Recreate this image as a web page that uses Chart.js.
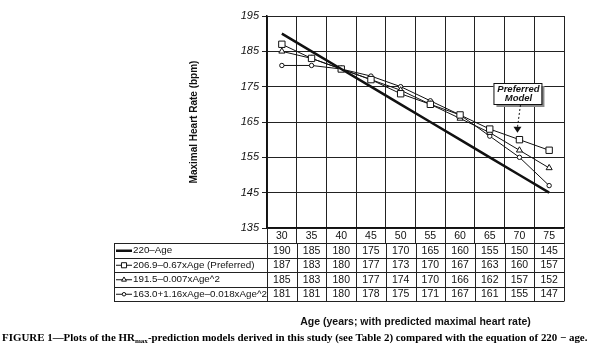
<!DOCTYPE html>
<html>
<head>
<meta charset="utf-8">
<script src="https://cdn.jsdelivr.net/npm/chart.js"></script>
<style>
    html, body { margin: 0; padding: 0; background: #fff; }
    #wrap { width: 600px; height: 351px; position: relative; }
</style>
</head>
<body>
<div id="wrap"><canvas id="hrChart" width="600" height="351"></canvas></div>
<script>
// data (tabel di bawah grafik)
const ages = ['30', '35', '40', '45', '50', '55', '60', '65', '70', '75'];
const hr220 = [190, 185, 180, 175, 170, 165, 160, 155, 150, 145];
const hrPreferred = [187, 183, 180, 177, 173, 170, 167, 163, 160, 157];
const hrQuad = [185, 183, 180, 177, 174, 170, 166, 162, 157, 152];
const hrPoly = [181, 181, 180, 178, 175, 171, 167, 161, 155, 147];
const seriesNames = ['220\u2013Age', '206.9\u20130.67xAge (Preferred)', '191.5\u20130.007xAge^2', '163.0+1.16xAge\u20130.018xAge^2'];
const yTicks = [135, 145, 155, 165, 175, 185, 195];

const INK = '#111';
const SANS = 'Arial, "Liberation Sans", sans-serif';

// gambar tabel, anotasi dan keterangan
const tablePlugin = {
    id: 'tablePlugin',
    afterDraw(chart) {
        const ctx = chart.ctx;
        const xs = chart.scales.x;
        const ys = chart.scales.y;
        const area = chart.chartArea;
        const colW = (area.right - area.left) / ages.length;
        const headerH = 15;
        const rowH = 14.5;
        const tableLeft = 114;
        const top = area.bottom + headerH;
        const rows = chart.data.datasets;

        ctx.save();
        ctx.fillStyle = INK;
        ctx.textAlign = 'center';
        ctx.textBaseline = 'middle';
        ctx.font = '10.5px ' + SANS;

        // header umur
        ages.forEach((a, i) => {
            ctx.fillText(a, xs.getPixelForTick(i), area.bottom + headerH / 2 + 0.5);
        });

        // garis tabel
        ctx.strokeStyle = '#222';
        ctx.lineWidth = 1;
        for (let r = 0; r <= rows.length; r++) {
            const y = Math.round(top + r * rowH) + 0.5;
            ctx.beginPath();
            ctx.moveTo(tableLeft, y);
            ctx.lineTo(area.right, y);
            ctx.stroke();
        }
        const bottom = top + rows.length * rowH;
        const vlines = [tableLeft];
        for (let i = 0; i <= ages.length; i++) vlines.push(area.left + i * colW);
        vlines.forEach(x => {
            ctx.beginPath();
            ctx.moveTo(Math.round(x) + 0.5, top);
            ctx.lineTo(Math.round(x) + 0.5, Math.round(bottom) + 0.5);
            ctx.stroke();
        });

        // isi baris
        rows.forEach((ds, r) => {
            const cy = top + r * rowH + rowH / 2 + 0.5;
            ctx.save();
            ctx.strokeStyle = INK;
            ctx.lineWidth = ds.borderWidth;
            ctx.beginPath();
            ctx.moveTo(tableLeft + 2, cy);
            ctx.lineTo(tableLeft + 18, cy);
            ctx.stroke();
            if (ds.pointRadius > 0) {
                ctx.fillStyle = '#fff';
                ctx.lineWidth = 1;
                Chart.helpers.drawPoint(ctx, {
                    pointStyle: ds.pointStyle,
                    radius: ds.pointRadius * 0.8,
                    borderWidth: 1,
                    rotation: 0
                }, tableLeft + 10, cy);
            }
            ctx.restore();

            ctx.textAlign = 'left';
            ctx.font = '9.8px ' + SANS;
            ctx.fillText(seriesNames[r], tableLeft + 19, cy);
            ctx.font = '10.5px ' + SANS;
            ctx.textAlign = 'center';
            ds.data.forEach((v, i) => {
                ctx.fillText(String(v), xs.getPixelForTick(i), cy);
            });
        });

        // judul sumbu x
        ctx.font = 'bold 10.5px ' + SANS;
        ctx.fillText('Age (years; with predicted maximal heart rate)', (area.left + area.right) / 2, 322);

        // kotak "Preferred Model"
        const px = xs.getPixelForTick(8) - 2;
        const tipY = ys.getPixelForValue(hrPreferred[8]) - 7;
        const bx = px - 24, by = 83, bw = 48, bh = 21;
        ctx.fillStyle = '#8a8a8a';
        ctx.fillRect(bx + 3, by + 3, bw, bh);
        ctx.fillStyle = '#fff';
        ctx.fillRect(bx, by, bw, bh);
        ctx.strokeStyle = INK;
        ctx.lineWidth = 1;
        ctx.strokeRect(bx + 0.5, by + 0.5, bw, bh);
        ctx.fillStyle = INK;
        ctx.font = 'italic bold 9.5px ' + SANS;
        ctx.fillText('Preferred', bx + bw / 2 + 1, by + 6.5);
        ctx.fillText('Model', bx + bw / 2 + 1, by + 15.5);

        // panah putus-putus
        ctx.setLineDash([2, 2]);
        ctx.beginPath();
        ctx.moveTo(px + 3, by + bh + 1);
        ctx.lineTo(px, tipY - 5);
        ctx.stroke();
        ctx.setLineDash([]);
        ctx.beginPath();
        ctx.moveTo(px - 4, tipY - 6);
        ctx.lineTo(px + 4, tipY - 6);
        ctx.lineTo(px, tipY);
        ctx.closePath();
        ctx.fill();

        // keterangan gambar
        drawCaption(ctx);
        ctx.restore();
    }
};

function drawCaption(ctx) {
    const serif = '"Liberation Serif", "Times New Roman", serif';
    const parts = [
        { t: 'FIGURE 1\u2014Plots of the HR', sub: false },
        { t: 'max', sub: true },
        { t: '-prediction models derived in this study (see Table 2) compared with the equation of 220 \u2212 age.', sub: false }
    ];
    let size = 11.5;
    const measure = s => {
        let w = 0;
        parts.forEach(p => {
            ctx.font = 'bold ' + (p.sub ? s * 0.65 : s) + 'px ' + serif;
            w += ctx.measureText(p.t).width;
        });
        return w;
    };
    const target = 586;
    size = size * target / measure(size);
    let x = 2;
    ctx.textAlign = 'left';
    ctx.textBaseline = 'alphabetic';
    ctx.fillStyle = '#000';
    parts.forEach(p => {
        ctx.font = 'bold ' + (p.sub ? size * 0.65 : size) + 'px ' + serif;
        ctx.fillText(p.t, x, p.sub ? 343 : 341);
        x += ctx.measureText(p.t).width;
    });
}

const ctx = document.getElementById('hrChart');

new Chart(ctx, {
    type: 'line',
    data: {
        labels: ages,
        datasets: [
            {
                label: seriesNames[0],
                data: hr220,
                borderColor: INK,
                borderWidth: 2.5,
                pointRadius: 0,
                pointStyle: 'line',
                tension: 0
            },
            {
                label: seriesNames[1],
                data: hrPreferred,
                borderColor: INK,
                borderWidth: 1,
                pointStyle: 'rect',
                pointRadius: 4.5,
                pointBackgroundColor: '#fff',
                pointBorderColor: INK,
                pointBorderWidth: 1,
                tension: 0
            },
            {
                label: seriesNames[2],
                data: hrQuad,
                borderColor: INK,
                borderWidth: 1,
                pointStyle: 'triangle',
                pointRadius: 3.5,
                pointBackgroundColor: '#fff',
                pointBorderColor: INK,
                pointBorderWidth: 1,
                tension: 0
            },
            {
                label: seriesNames[3],
                data: hrPoly,
                borderColor: INK,
                borderWidth: 1,
                pointStyle: 'circle',
                pointRadius: 2.2,
                pointBackgroundColor: '#fff',
                pointBorderColor: INK,
                pointBorderWidth: 1,
                tension: 0
            }
        ]
    },
    options: {
        responsive: false,
        animation: false,
        layout: { padding: { left: 188, top: 16, right: 36, bottom: 0 } },
        plugins: {
            legend: { display: false },
            tooltip: { enabled: false }
        },
        scales: {
            x: {
                type: 'category',
                offset: true,
                afterFit: function(scale) { scale.height = 123; },
                grid: { offset: true, color: '#222', lineWidth: 1, tickLength: 15, drawTicks: true },
                border: { color: INK, width: 1.5 },
                ticks: { display: false }
            },
            y: {
                min: 135,
                max: 195,
                afterFit: function(scale) { scale.width = 79; },
                afterBuildTicks: function(scale) {
                    scale.ticks = yTicks.map(v => ({ value: v }));
                },
                grid: { color: '#222', lineWidth: 1, tickLength: 5 },
                border: { color: INK, width: 1.5 },
                ticks: {
                    color: INK,
                    padding: 3,
                    font: { family: SANS, size: 11, style: 'italic' }
                },
                title: {
                    display: true,
                    text: 'Maximal Heart Rate (bpm)',
                    color: INK,
                    padding: 0,
                    font: { family: SANS, size: 10, weight: 'bold' }
                }
            }
        }
    },
    plugins: [tablePlugin]
});
</script>
</body>
</html>
